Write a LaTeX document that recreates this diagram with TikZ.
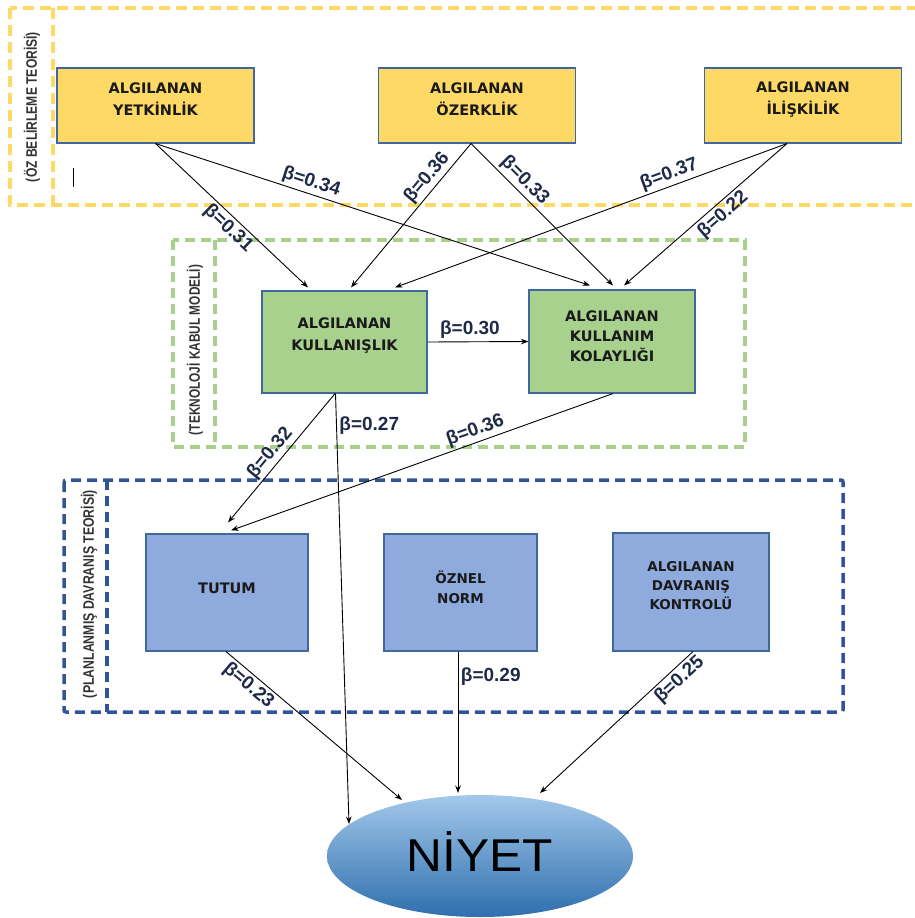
\documentclass[tikz,border=0pt]{standalone}
\usepackage{fontspec}
\usepackage{graphicx}
\setmainfont{Liberation Sans}
\newfontfamily\boxfont{DejaVu Sans}
\usetikzlibrary{arrows.meta,calc,shapes.geometric}
\definecolor{yelfill}{HTML}{FFD966}
\definecolor{yelframe}{HTML}{FFD966}
\definecolor{grnfill}{HTML}{A9D18E}
\definecolor{grnframe}{HTML}{A9D18E}
\definecolor{blufill}{HTML}{8FAADC}
\definecolor{bluframe}{HTML}{2F5597}
\definecolor{boxedge}{HTML}{41689C}
\definecolor{txtcol}{HTML}{1A1A1A}
\definecolor{betacol}{HTML}{1F2A48}
\definecolor{ntop}{HTML}{A3C8EA}
\definecolor{nbot}{HTML}{2E6FAE}
\begin{document}
\begin{tikzpicture}[x=1pt,y=-1pt,
  boxbase/.style={draw=boxedge, line width=1.1pt, inner sep=0pt},
  ybox/.style={boxbase, fill=yelfill, minimum width=197pt, minimum height=75pt},
  gbox/.style={boxbase, fill=grnfill},
  bbox/.style={boxbase, fill=blufill},
  btext/.style={font=\boxfont\bfseries\fontsize{14.5}{22}\selectfont, align=center, text=txtcol, inner sep=0pt},
  bltext/.style={font=\boxfont\bfseries\fontsize{13.5}{19}\selectfont, align=center, text=txtcol, inner sep=0pt},
  arr/.style={draw=black, line width=0.9pt, -{Stealth[length=7.5pt,width=5.5pt]}},
  beta/.style={font=\bfseries\fontsize{19}{19}\selectfont, text=betacol, inner sep=2.5pt},
  yframe/.style={draw=yelframe, line width=4pt, dash pattern=on 11pt off 6pt},
  gframe/.style={draw=grnframe, line width=3.5pt, dash pattern=on 10pt off 6pt},
  bframe/.style={draw=bluframe, line width=3.5pt, dash pattern=on 10pt off 6pt, rounded corners=2pt},
  theory/.style={rotate=90, inner sep=0pt, text=black!80, font=\bfseries}
  ]
\useasboundingbox (0,0) rectangle (914,918);

% frames
\draw[yframe] (10,8) rectangle (930,205);
\draw[yframe] (53,8) -- (53,205);
\draw[gframe] (173,240) rectangle (745,447);
\draw[gframe] (215,240) -- (215,447);
\draw[bframe] (64,480) rectangle (843,712);
\draw[bframe] (107,480) -- (107,712);

\node[theory] (thY) at (32,107) {\resizebox{150pt}{13pt}{(ÖZ BELİRLEME TEORİSİ)}};
\node[theory] (thG) at (195,350) {\resizebox{170pt}{13pt}{(TEKNOLOJİ KABUL  MODELİ)}};
\node[theory] (thB) at (89,594) {\resizebox{208pt}{13pt}{(PLANLANMIŞ DAVRANIŞ TEORİSİ)}};

\draw[line width=1pt] (73,168) -- (73,187);

% boxes
\node[ybox] (Y1) at (155.5,105.5) {};
\node[ybox] (Y2) at (477,105.5) {};
\node[ybox] (Y3) at (803,105.5) {};
\node[btext] (Y1t) at ([yshift=6pt]Y1.center) {ALGILANAN\\YETKİNLİK};
\node[btext] (Y2t) at ([yshift=6pt]Y2.center) {ALGILANAN\\ÖZERKLİK};
\node[btext] (Y3t) at ([yshift=6pt]Y3.center) {ALGILANAN\\İLİŞKİLİK};

\node[gbox, minimum width=165pt, minimum height=102pt] (G1) at (344.5,342) {};
\node[gbox, minimum width=166pt, minimum height=103pt] (G2) at (612,341.5) {};
\node[btext] (G1t) at ([yshift=6pt]G1.center) {ALGILANAN\\KULLANIŞLIK};
\node[btext, font=\boxfont\bfseries\fontsize{14.5}{20}\selectfont] (G2t) at ([yshift=5pt]G2.center) {ALGILANAN\\KULLANIM\\KOLAYLIĞI};

\node[bbox, minimum width=162pt, minimum height=117pt] (T) at (227,592.5) {};
\node[bbox, minimum width=153pt, minimum height=117pt] (O) at (460.5,592.5) {};
\node[bbox, minimum width=156pt, minimum height=118pt] (A) at (691,592) {};
\node[btext] (Tt) at ([yshift=4pt]T.center) {TUTUM};
\node[bltext, font=\boxfont\bfseries\fontsize{13.5}{20}\selectfont] (Ot) at ([yshift=5pt]O.center) {ÖZNEL\\NORM};
\node[bltext] (At) at ([yshift=6pt]A.center) {ALGILANAN\\DAVRANIŞ\\KONTROLÜ};

\node[ellipse, minimum width=306pt, minimum height=122pt, inner sep=0pt,
      top color=ntop, bottom color=nbot, draw=none] (N) at (480,856) {};
\node[font=\fontsize{46}{46}\selectfont, text=black, inner sep=0pt] (Nt) at (480,852) {\scalebox{1.08}[1]{NİYET}};

% arrows: top level -> TAM
\draw[arr] (Y1.south) -- ([xshift=-36.5pt,yshift=3pt]G1.north)
  node[beta, sloped, below, pos=0.53] {β=0.31};
\draw[arr] (Y1.south) -- ([xshift=-22pt,yshift=4pt]G2.north)
  node[beta, sloped, above, pos=0.35] {β=0.34};
\draw[arr] ([xshift=-6pt]Y2.south) -- ([xshift=6.5pt,yshift=3pt]G1.north)
  node[beta, sloped, above, pos=0.29] {β=0.36};
\draw[arr] ([xshift=-6pt]Y2.south) -- ([xshift=1pt,yshift=4pt]G2.north)
  node[beta, sloped, above, pos=0.32] {β=0.33};
\draw[arr] ([xshift=-16pt]Y3.south) -- ([xshift=50.5pt,yshift=3pt]G1.north)
  node[beta, sloped, above, pos=0.29] {β=0.37};
\draw[arr] ([xshift=-16pt]Y3.south) -- ([xshift=12pt,yshift=4pt]G2.north)
  node[beta, sloped, below, pos=0.44] {β=0.22};

\draw[arr] (G1.east) -- (G2.west) node[beta, above, pos=0.42] {β=0.30};

% TAM -> TPB / intention
\draw[arr] ([xshift=-9.5pt]G1.south) -- ([xshift=1pt,yshift=11pt]T.north)
  node[beta, sloped, above, pos=0.52] {β=0.32};
\draw[arr] ([xshift=1pt]G2.south) -- ([xshift=4pt,yshift=3pt]T.north)
  node[beta, sloped, above, pos=0.35] {β=0.36};
\draw[arr] ([xshift=-9pt]G1.south) -- ($(N.center)+(-131,-32)$)
  node[beta, right, pos=0.075] {β=0.27};

% TPB -> intention
\draw[arr] ([xshift=-1pt]T.south) -- ($(N.center)+(-78,-56)$)
  node[beta, sloped, below, pos=0.17] {β=0.23};
\draw[arr] ([xshift=-2.5pt]O.south) -- ($(N.center)+(-22,-63)$)
  node[beta, right, pos=0.18] {β=0.29};
\draw[arr] ([xshift=2pt]A.south) -- ($(N.center)+(60,-63)$)
  node[beta, sloped, below, pos=0.14] {β=0.25};
\end{tikzpicture}
\end{document}
